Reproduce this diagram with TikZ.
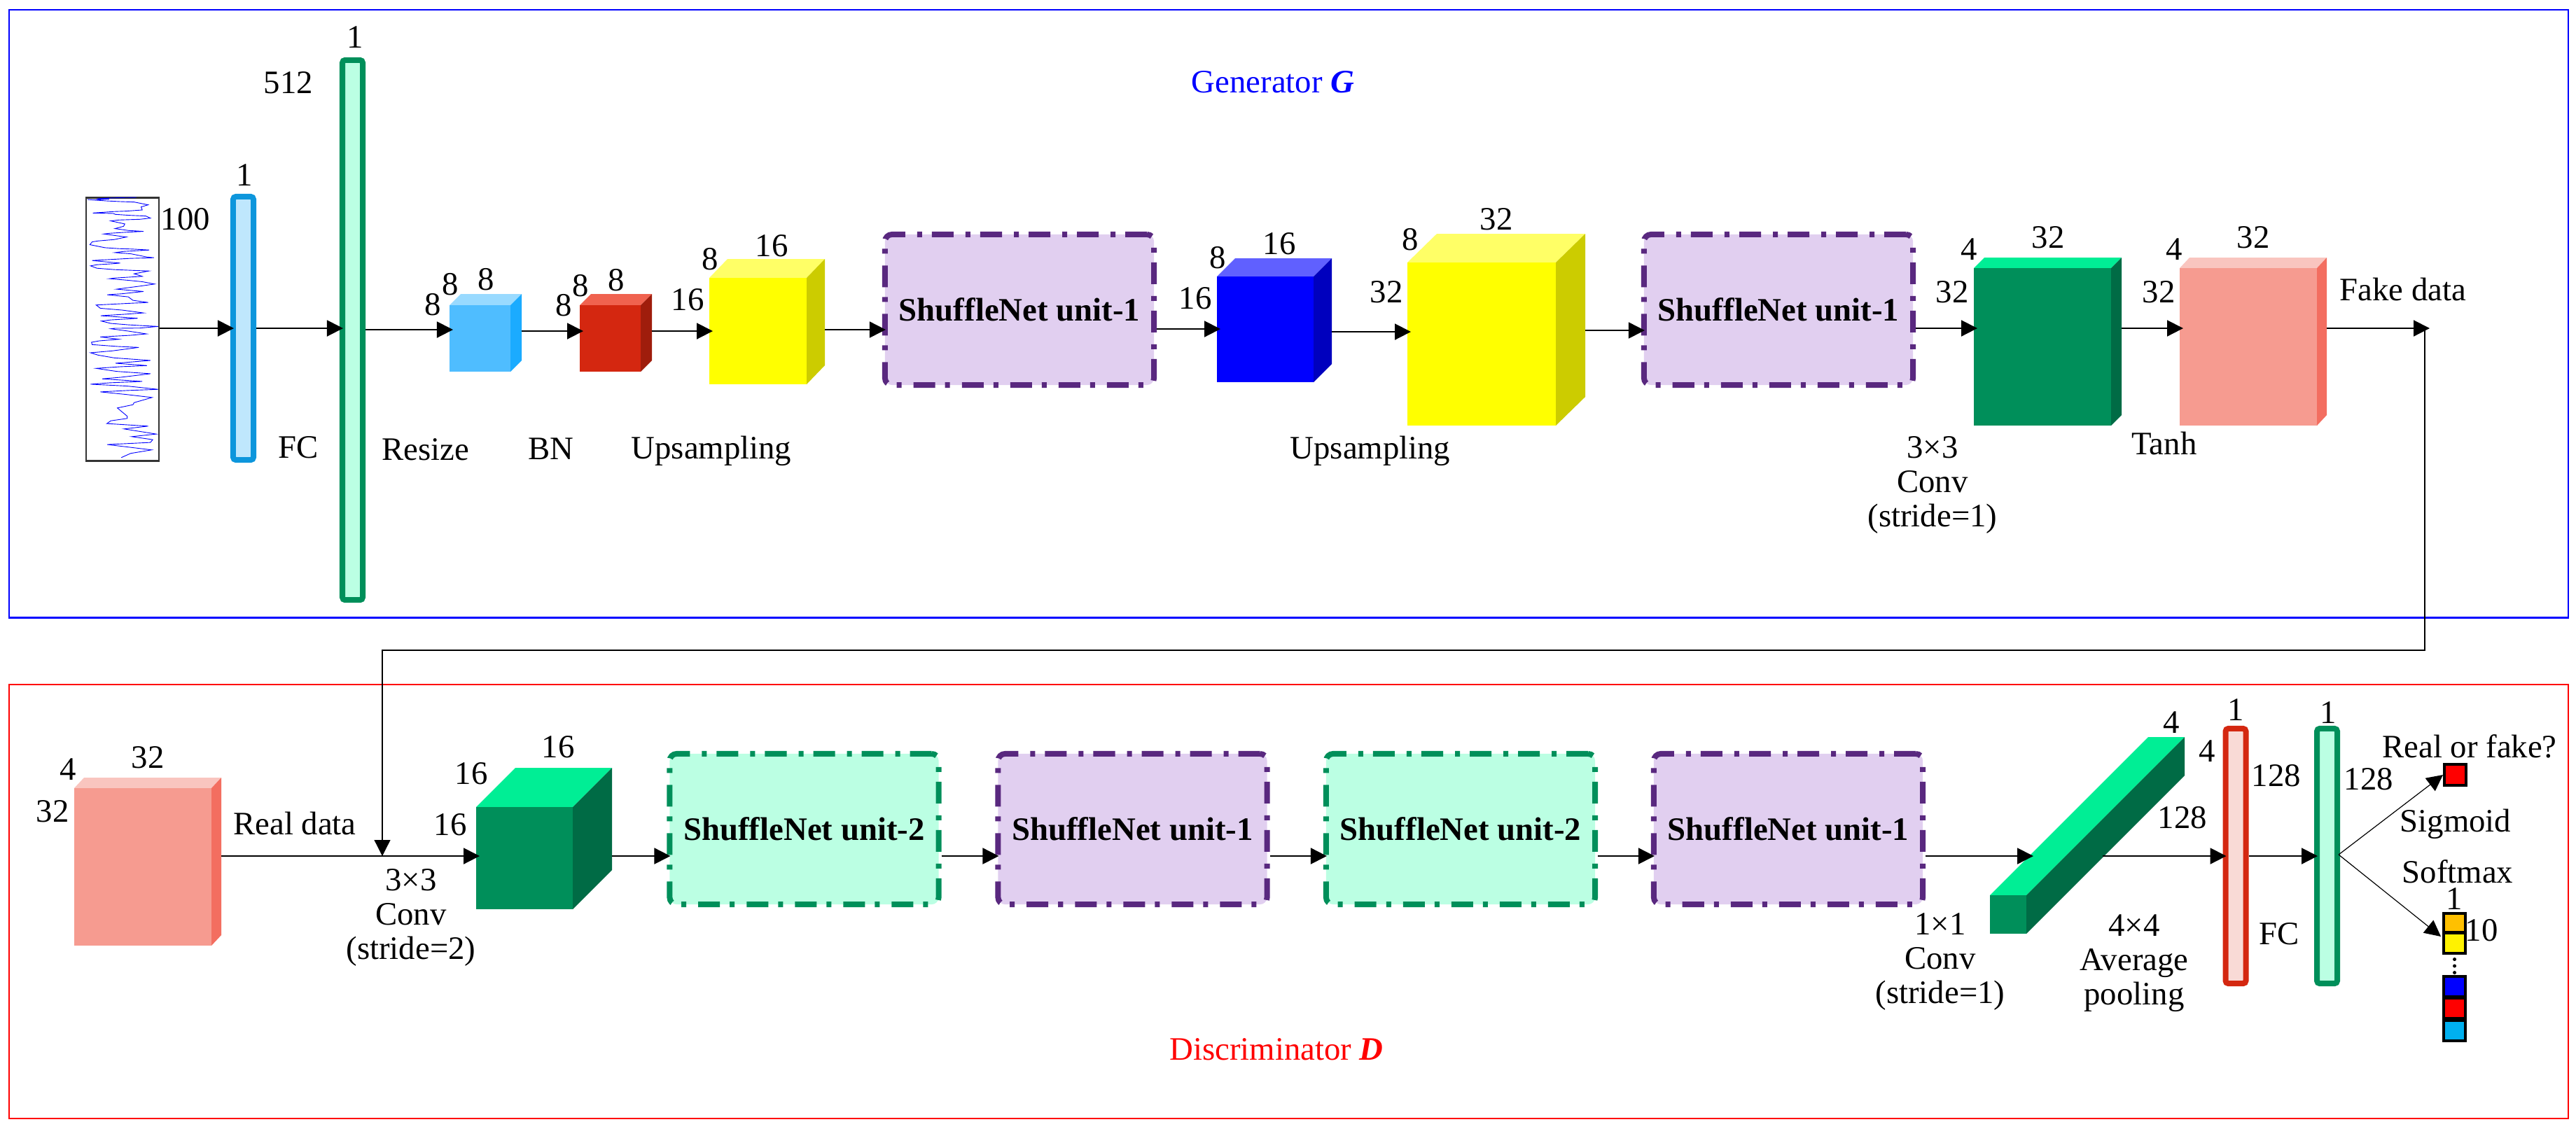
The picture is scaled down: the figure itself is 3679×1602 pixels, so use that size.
\documentclass[tikz,border=0pt]{standalone}
\usepackage{fontspec}
\setmainfont{Liberation Serif}
\usetikzlibrary{arrows.meta,fit}
\definecolor{lbF}{HTML}{4FBDFF}\definecolor{lbT}{HTML}{99DAFF}\definecolor{lbS}{HTML}{1BABFF}
\definecolor{rdF}{HTML}{D42710}\definecolor{rdT}{HTML}{F0624F}\definecolor{rdS}{HTML}{9F1D0C}
\definecolor{yeF}{HTML}{FFFF00}\definecolor{yeT}{HTML}{FFFF66}\definecolor{yeS}{HTML}{CCCC00}
\definecolor{blF}{HTML}{0000FF}\definecolor{blT}{HTML}{6060FF}\definecolor{blS}{HTML}{0000BE}
\definecolor{grF}{HTML}{008F5A}\definecolor{grT}{HTML}{00EE95}\definecolor{grS}{HTML}{006B45}
\definecolor{saF}{HTML}{F69B90}\definecolor{saT}{HTML}{F9C5BF}\definecolor{saS}{HTML}{F36E60}
\definecolor{plum}{HTML}{59287F}\definecolor{plumfill}{HTML}{E1CFF0}\definecolor{mint}{HTML}{BBFFE3}
\tikzset{
  lbl/.style={inner sep=0pt,align=center,font=\fontsize{13.3}{14}\selectfont},
  link/.style={line width=0.02cm},
  unitbox/.style={rounded corners=0.1cm,line width=0.08cm,minimum width=3.84cm,minimum height=2.15cm,
    dash pattern=on 0.31cm off 0.14cm on 0.07cm off 0.17cm,inner sep=0pt,
    font=\fontsize{13.3}{16}\selectfont\bfseries},
  purplebox/.style={unitbox,draw=plum,fill=plumfill},
  tealbox/.style={unitbox,draw=grF,fill=mint},
  fcbar/.style={rounded corners=0.04cm,line width=0.08cm,minimum width=0.29cm,inner sep=0pt},
  cell/.style={draw=black,line width=0.04cm,minimum width=0.31cm,inner sep=0pt},
}
% front corners, then far right x and far top y, then colour prefix
\newcommand{\cuboid}[8]{
  \fill[#8T] (#2,#3) -- (#2+#6-#4,#7) -- (#6,#7) -- (#4,#3) -- cycle;
  \fill[#8S] (#4,#3) -- (#6,#7) -- (#6,#5+#7-#3) -- (#4,#5) -- cycle;
  \node[fill=#8F,fit={(#2,#3) (#4,#5)},inner sep=0pt,outer sep=0pt] (#1) {};
  \coordinate (#1-out) at ({#6},{(#3+#5)/2});
}
\begin{document}
\begin{tikzpicture}[x=0.01cm,y=-0.01cm]
  \useasboundingbox (0,0) rectangle (3679,1602);
  \node[draw=blue,line width=0.025cm,minimum width=36.53cm,minimum height=8.68cm] (genframe) at (1840.5,448) {};
  \node[draw=red,line width=0.025cm,minimum width=36.53cm,minimum height=6.20cm] (disframe) at (1840.5,1288) {};

  \node[draw=black!80,line width=0.025cm,minimum width=1.04cm,minimum height=3.76cm] (signal) at (175,470.5) {};
  \begin{scope}[shift={(120,280)},x=0.00333cm,y=-0.00333cm]
    \draw[blue,line width=0.009cm] plot coordinates {
      (225,6) (165,7) (110,9) (55,12) (108,13) (40,17) (15,15) (95,21) (155,24) (215,26) (275,38) (245,47)
      (250,60) (180,65) (125,67) (68,71) (38,73) (125,75) (135,79) (195,83) (265,86) (285,95) (240,100)
      (150,103) (115,107) (175,120) (170,130) (133,140) (190,148) (255,152) (190,155) (112,160) (85,163)
      (150,172) (182,176) (130,187) (60,193) (35,197) (25,209) (90,222) (150,226) (210,228) (280,232)
      (170,238) (133,243) (200,248) (270,262) (300,265) (195,268) (125,272) (35,277) (85,282) (155,288)
      (120,291) (55,295) (28,300) (55,310) (130,316) (225,320) (278,322) (215,334) (250,345) (215,347)
      (135,352) (110,355) (190,362) (250,368) (303,378) (240,387) (140,400) (255,410) (160,420) (100,424)
      (190,433) (210,448) (275,457) (190,461) (52,468) (70,482) (165,490) (255,502) (170,508) (72,514)
      (230,525) (115,532) (75,537) (115,547) (190,553) (240,556) (318,560) (240,567) (130,568)
      (115,570) (190,580) (268,592) (200,598) (70,605) (150,615) (65,622) (32,628) (35,638) (145,646)
      (235,650) (120,665) (28,673) (60,683) (130,695) (285,706) (135,718) (270,728) (155,733) (52,740)
      (140,753) (285,763) (160,778) (78,785) (250,796) (110,802) (28,808) (185,816) (318,830) (185,835)
      (70,841) (180,852) (292,865) (215,887) (210,896) (143,910) (185,945) (185,955) (115,965) (98,977)
      (275,988) (172,1000) (310,1022) (205,1033) (295,1046) (285,1058) (100,1067) (290,1090) (200,1105) (160,1123)};
  \end{scope}

  \cuboid{lblue}{642}{436}{729}{531}{745}{420}{lb}
  \cuboid{redcube}{828}{436}{915}{531}{931}{420}{rd}
  \cuboid{yellowA}{1013}{397}{1152}{549}{1178}{370}{ye}
  \cuboid{bluecube}{1738}{395}{1876}{546}{1902}{369}{bl}
  \cuboid{yellowB}{2010}{375}{2222}{608}{2264}{334}{ye}
  \cuboid{greenA}{2819}{383}{3015}{608}{3030}{368}{gr}
  \cuboid{salmonA}{3113}{383}{3309}{608}{3323}{368}{sa}
  \cuboid{salmonB}{106}{1126}{302}{1351}{316}{1111}{sa}
  \cuboid{greenB}{680}{1153}{818}{1299}{874}{1097}{gr}
  \cuboid{prism}{2842}{1279}{2894}{1334}{3120}{1053}{gr}

  \node[fcbar,draw={rgb,255:red,13;green,150;blue,220},fill={rgb,255:red,191;green,231;blue,253},minimum height=3.76cm] (barA) at (347.5,469) {};
  \node[fcbar,draw=grF,fill=mint,minimum height=7.71cm] (barB) at (503.5,471.5) {};
  \node[fcbar,draw=rdF,fill={rgb,255:red,249;green,218;blue,214},minimum height=3.64cm] (barC) at (3193,1223) {};
  \node[fcbar,draw=grF,fill=mint,minimum height=3.64cm] (barD) at (3323.5,1223) {};

  \node[purplebox] (unitA) at (1456,442.5) {ShuffleNet unit-1};
  \node[purplebox] (unitB) at (2540,442.5) {ShuffleNet unit-1};
  \node[tealbox] (unitC) at (1148.5,1184.5) {ShuffleNet unit-2};
  \node[purplebox] (unitD) at (1617.5,1184.5) {ShuffleNet unit-1};
  \node[tealbox] (unitE) at (2086,1184.5) {ShuffleNet unit-2};
  \node[purplebox] (unitF) at (2554,1184.5) {ShuffleNet unit-1};

  \node[cell,fill=red,minimum height=0.30cm] (sqreal) at (3506.5,1107) {};
  \node[cell,fill={rgb,255:red,255;green,192;blue,0},minimum height=0.27cm] (sqA) at (3505.5,1318) {};
  \node[cell,fill=yellow,minimum height=0.29cm] (sqB) at (3505.5,1347.5) {};
  \node[cell,fill=blue,minimum height=0.29cm] (sqC) at (3505.5,1409) {};
  \node[cell,fill=red,minimum height=0.29cm] (sqD) at (3505.5,1440) {};
  \node[cell,fill={rgb,255:red,0;green,176;blue,240},minimum height=0.29cm] (sqE) at (3505.5,1472) {};
  \draw[line width=0.05cm,line cap=round,dash pattern=on 0pt off 0.095cm,dash phase=0.03cm] (sqB.south) to (sqC.north);

  \coordinate (fakeend) at (3470,469);
  \coordinate (backbend) at (2000,929);
  \coordinate (realjoin) at (546,1223);
  \coordinate (prismin) at (2899,1223);
  \coordinate (prismout) at (3003,1223);
  \coordinate (softtip) at (3486,1338);
  \coordinate (splitA) at (3340,1221);

  \begin{scope}[-{Triangle[length=0.23cm,width=0.23cm]},link,shorten >=-0.05cm]
    \draw (signal.east |- 0,469) to (barA.west |- 0,469);
    \draw (barA.east |- 0,469) to (barB.west |- 0,469);
    \draw (barB.east |- 0,471) to (lblue.west |- 0,471);
    \draw (lblue-out |- 0,473) to (redcube.west |- 0,473);
    \draw (redcube-out |- 0,473) to (yellowA.west |- 0,473);
    \draw (yellowA-out |- 0,471) to (unitA.west |- 0,471);
    \draw (unitA.east |- 0,470) to (bluecube.west |- 0,470);
    \draw (bluecube-out |- 0,474) to (yellowB.west |- 0,474);
    \draw (yellowB-out |- 0,472) to (unitB.west |- 0,472);
    \draw (unitB.east |- 0,469) to (greenA.west |- 0,469);
    \draw (greenA-out |- 0,469) to (salmonA.west |- 0,469);
    \draw (salmonB-out |- 0,1223) to (greenB.west |- 0,1223);
    \draw (greenB-out |- 0,1223) to (unitC.west |- 0,1223);
    \draw (unitC.east |- 0,1223) to (unitD.west |- 0,1223);
    \draw (unitD.east |- 0,1223) to (unitE.west |- 0,1223);
    \draw (unitE.east |- 0,1223) to (unitF.west |- 0,1223);
    \draw (unitF.east |- 0,1223) to (prismin);
    \draw (prismout) to (barC.west |- 0,1223);
    \draw (barC.east |- 0,1223) to (barD.west |- 0,1223);
  \end{scope}
  \begin{scope}[-{Triangle[length=0.23cm,width=0.23cm]},line width=0.012cm]
    \draw[link] (salmonA-out |- 0,469) to (fakeend);
    \draw (splitA) to (sqreal.west);
    \draw (splitA) to (softtip);
    \draw (3463,469) |- (backbend) -| (realjoin);
  \end{scope}

  \foreach \x/\y/\txt [count=\i] in {
    265/313/100, 349/250/1, 412/118/512, 507/53/1, 426/639/FC, 608/642/Resize, 787/641/BN, 1016/644/Upsampling,
    618/435/8, 643/406/8, 694/399/8, 805/436/8, 829/408/8, 880/400/8, 982/428/16, 1014/370/8, 1102/351/16,
    1707/426/16, 1739/368/8, 1827/348/16, 1980/417/32, 2014/342/8, 2137/313/32, 1957/644/Upsampling,
    2812/356/4, 2788/417/32, 2925/339/32, 2760/693/{3×3\\Conv\\(stride=1)},
    3105/356/4, 3083/417/32, 3218/339/32, 3091/633/Tanh, 3432/413/Fake data,
    1818/117/{\textcolor{blue}{Generator \textbf{\textit{G}}}},
    97/1099/4, 211/1082/32, 75/1159/32, 421/1176/Real data, 587/1311/{3×3\\Conv\\(stride=2)},
    643/1178/16, 673/1105/16, 797/1067/16,
    2771/1374/{1×1\\Conv\\(stride=1)}, 3048/1376/{4×4\\Average\\pooling},
    3101/1032/4, 3152/1073/4, 3117/1168/128, 3193/1014/1, 3251/1108/128, 3255/1334/FC,
    3325/1018/1, 3383/1113/128, 3527/1066/Real or fake?, 3507/1177/Sigmoid, 3510/1245/Softmax,
    3505/1284/1, 3544/1329/10,
    1823/1499/{\textcolor{red}{Discriminator \textbf{\textit{D}}}}}
    \node[lbl] (lbl\i) at (\x,\y) {\txt};
\end{tikzpicture}
\end{document}
